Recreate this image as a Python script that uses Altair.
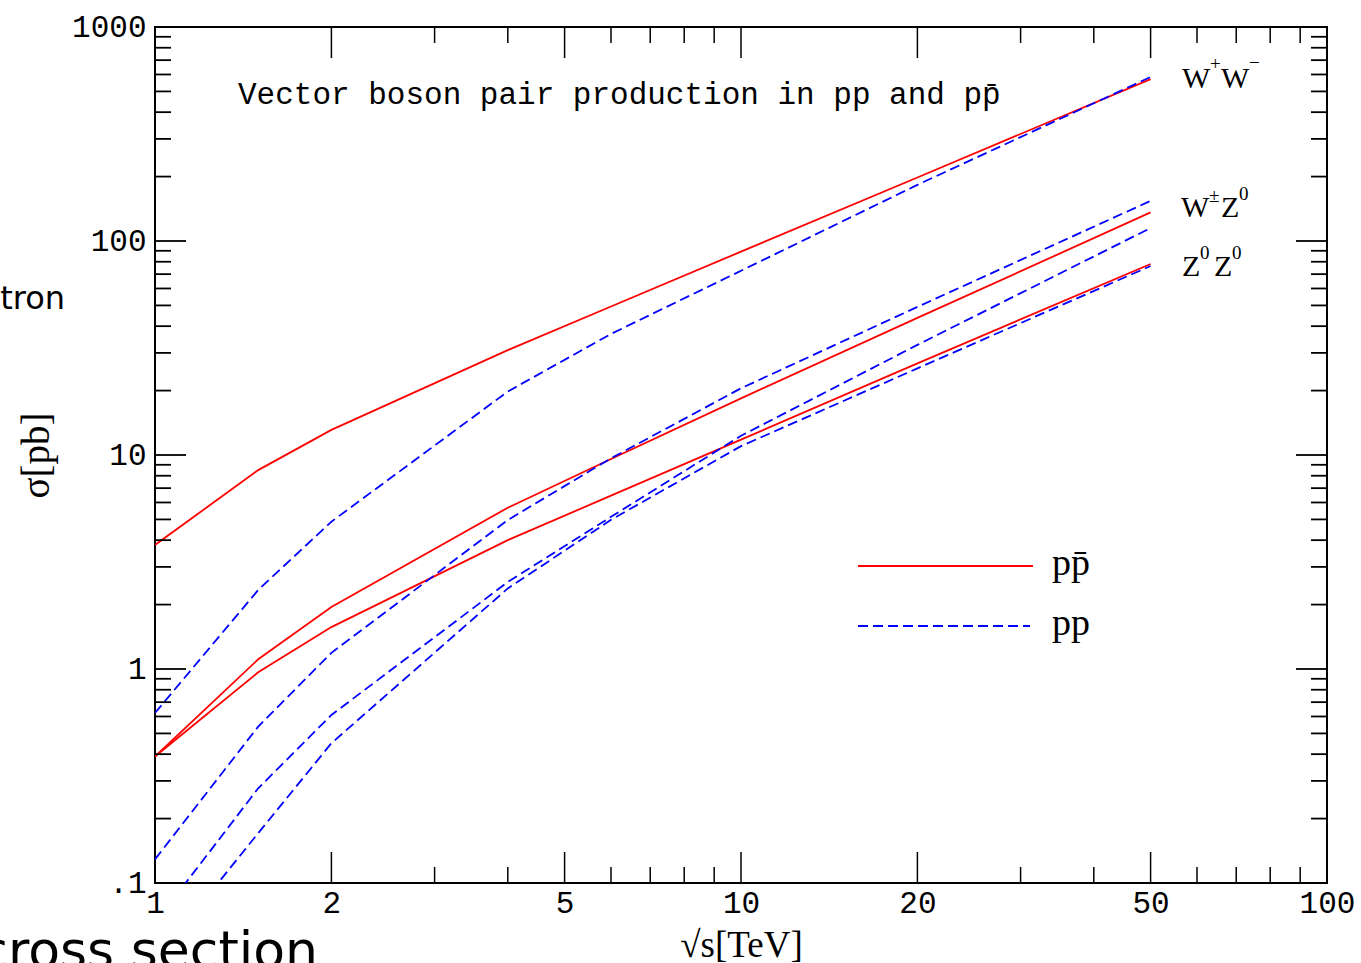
import altair as alt
import pandas as pd

# Centre-of-mass energy sqrt(s) in TeV
sqrt_s = [1, 1.5, 2, 4, 6, 10, 20, 50]

# Cross sections sigma in pb, proton-antiproton collisions
ww_ppbar = [3.8, 8.5, 13.1, 30.9, 49.4, 89.2, 198, 571]
wz_ppbar = [0.39, 1.11, 1.95, 5.67, 9.58, 18.4, 43.7, 136]
zz_ppbar = [0.39, 0.965, 1.57, 4.0, 6.46, 11.8, 26.8, 78.1]

# Cross sections sigma in pb, proton-proton collisions
ww_pp = [0.623, 2.34, 4.88, 19.8, 36.8, 72.6, 183, 584]
wpz_pp = [0.129, 0.538, 1.19, 4.97, 9.65, 20.5, 49.2, 154]
wmz_pp = [0.065, 0.277, 0.61, 2.55, 5.14, 12.3, 32.7, 115]
zz_pp = [0.043, 0.171, 0.45, 2.38, 4.98, 11.0, 25.4, 76.4]

# Axis label values and tick positions
x_labels = [1, 2, 5, 10, 20, 50, 100]
y_labels = [0.1, 1, 10, 100, 1000]
x_major = [2, 5, 10, 20, 50]
x_minor = [3, 4, 6, 7, 8, 9, 30, 40, 60, 70, 80, 90]
y_major = [1, 10, 100]
y_minor = [0.2, 0.3, 0.4, 0.5, 0.6, 0.7, 0.8, 0.9,
           2, 3, 4, 5, 6, 7, 8, 9,
           20, 30, 40, 50, 60, 70, 80, 90,
           200, 300, 400, 500, 600, 700, 800, 900]

PPBAR = "pp\u0304"
PP = "pp"
TITLE = "Vector boson pair production in pp and pp\u0304"

MONO = "Liberation Mono"
SERIF = "Liberation Serif"
SANS = "DejaVu Sans"
RED = "#ff0000"
BLUE = "#0000ff"

W, H = 1172, 856
MAJ, MIN = 31, 16


def curve_frame(items):
    rows = []
    for name, vals in items:
        for s, v in zip(sqrt_s, vals):
            rows.append({"s": s, "sigma": v, "series": name})
    return pd.DataFrame(rows)


ppbar_df = curve_frame([("WW", ww_ppbar), ("WZ", wz_ppbar), ("ZZ", zz_ppbar)])
pp_df = curve_frame([("WW", ww_pp), ("W+Z", wpz_pp), ("W-Z", wmz_pp), ("ZZ", zz_pp)])

x_scale = alt.Scale(type="log", domain=[1, 100], nice=False)
y_scale = alt.Scale(type="log", domain=[0.1, 1000], nice=False)

x_axis = alt.Axis(
    values=x_labels, format="d", ticks=False, domain=False, grid=False,
    labelFont=MONO, labelFontSize=31, labelColor="black", labelPadding=5,
    labelFlush=False, labelOverlap=False, labelBound=False,
    title="\u221as[TeV]", titleFont=SERIF, titleFontSize=37,
    titleFontWeight="normal", titleColor="black",
    titleX=586, titleY=62, titleAlign="center", titleBaseline="middle",
)
y_axis = alt.Axis(
    values=y_labels, ticks=False, domain=False, grid=False,
    labelExpr="datum.value < 1 ? '.1' : format(datum.value, 'd')",
    labelFont=MONO, labelFontSize=31, labelColor="black", labelPadding=9,
    labelFlush=False, labelOverlap=False, labelBound=False,
    title="\u03c3[pb]", titleFont=SERIF, titleFontSize=39,
    titleFontWeight="normal", titleColor="black",
    titleAngle=270, titleX=-119, titleY=428,
    titleAlign="center", titleBaseline="middle",
)

X = alt.X("s:Q", scale=x_scale, axis=x_axis)
Y = alt.Y("sigma:Q", scale=y_scale, axis=y_axis)

# Curves
ppbar_lines = alt.Chart(ppbar_df).mark_line(
    color=RED, strokeWidth=1.8, clip=True
).encode(x=X, y=Y, detail="series:N")

pp_lines = alt.Chart(pp_df).mark_line(
    color=BLUE, strokeWidth=1.8, strokeDash=[10, 5], clip=True
).encode(x=X, y=Y, detail="series:N")


# Inward ticks on all four sides
def x_ticks(vals, length, top):
    y0, y1 = (0, length) if top else (H, H - length)
    return alt.Chart(pd.DataFrame({"s": vals})).mark_rule(
        color="black", strokeWidth=1.5
    ).encode(x=X, y=alt.value(y0), y2=alt.value(y1))


def y_ticks(vals, length, right):
    x0, x1 = (W, W - length) if right else (0, length)
    return alt.Chart(pd.DataFrame({"sigma": vals})).mark_rule(
        color="black", strokeWidth=1.8
    ).encode(y=Y, x=alt.value(x0), x2=alt.value(x1))


ticks = [
    x_ticks(x_major, MAJ, False), x_ticks(x_minor, MIN, False),
    x_ticks(x_major, MAJ, True), x_ticks(x_minor, MIN, True),
    y_ticks(y_major, MAJ, False), y_ticks(y_minor, MIN, False),
    y_ticks(y_major, MAJ, True), y_ticks(y_minor, MIN, True),
]


def note(text, px, py, size, font=SERIF, align="left", baseline="alphabetic"):
    return alt.Chart(alt.Data(values=[{"t": text}])).mark_text(
        align=align, baseline=baseline, font=font, fontSize=size,
        color="black"
    ).encode(text="t:N", x=alt.value(px), y=alt.value(py))


def seg(px0, px1, py, color, dash=None):
    kw = dict(color=color, strokeWidth=2)
    if dash:
        kw["strokeDash"] = dash
    return alt.Chart(alt.Data(values=[{}])).mark_rule(**kw).encode(
        x=alt.value(px0), x2=alt.value(px1), y=alt.value(py)
    )


notes = [
    note(TITLE, 83, 68, 31, font=MONO, baseline="middle"),
    # process labels
    note("W", 1027, 61, 30), note("+", 1055, 43, 19), note("W", 1066, 61, 30),
    note("\u2212", 1094, 42, 19),
    note("W", 1026, 190, 30), note("\u00b1", 1054, 175, 19),
    note("Z", 1066, 190, 30), note("0", 1084, 173, 19),
    note("Z", 1027, 249, 30), note("0", 1045, 232, 19),
    note("Z", 1059, 249, 30), note("0", 1077, 232, 19),
    # legend
    seg(703, 878, 539, RED),
    seg(703, 875, 599, BLUE, [10, 5]),
    note(PPBAR, 897, 548, 38),
    note(PP, 897, 608, 38),
    # surrounding slide text
    note("Tevatron", -90, 282, 32, font=SANS, align="right"),
    note("cross section", 163, 941, 52, font=SANS, align="right"),
]

chart = alt.layer(
    ppbar_lines, pp_lines, *ticks, *notes
).properties(
    width=W, height=H,
    padding={"left": 155, "top": 27, "right": 34, "bottom": 80},
    autosize=alt.AutoSizeParams(type="none"),
    background="white",
).configure_view(
    stroke="black", strokeWidth=2
)

chart.save("out.html", embed_options={"renderer": "svg", "actions": False})
